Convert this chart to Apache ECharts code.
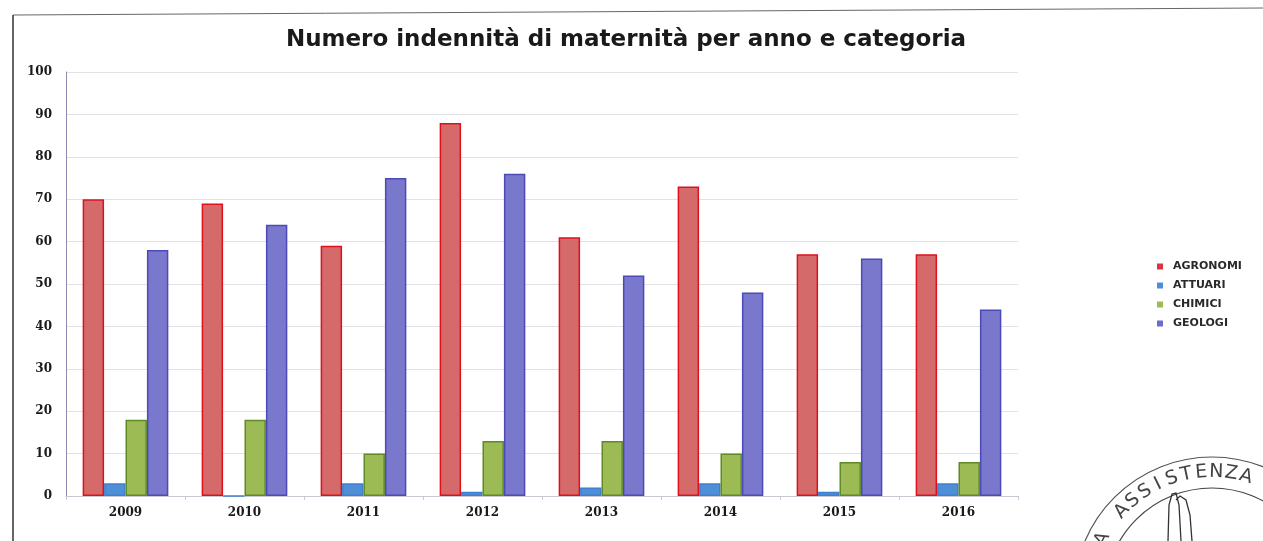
<!DOCTYPE html>
<html>
<head>
<meta charset="utf-8">
<script src="https://cdn.jsdelivr.net/npm/echarts@6/dist/echarts.min.js"></script>
<style>
  html, body { margin: 0; padding: 0; background: #fff; }
  #chart { width: 1263px; height: 541px; }
</style>
</head>
<body>
<div id="chart"></div>
<script>
const titleText = "Numero indennità di maternità per anno e categoria";
const years = ["2009", "2010", "2011", "2012", "2013", "2014", "2015", "2016"];
const seriesNames = ["AGRONOMI", "ATTUARI", "CHIMICI", "GEOLOGI"];
const agronomi = [70, 69, 59, 88, 61, 73, 57, 57];
const attuari  = [3, 0, 3, 1, 2, 3, 1, 3];
const chimici  = [18, 18, 10, 13, 13, 10, 8, 8];
const geologi  = [58, 64, 75, 76, 52, 48, 56, 44];
const yTicks = [0, 10, 20, 30, 40, 50, 60, 70, 80, 90, 100];
const stampWord = "ASSISTENZA";

const fills   = ["#d46a6a", "#4f8fd8", "#9dbb55", "#7a78cc"];
const borders = ["#e0101a", "#3f7fcf", "#5f8a25", "#4a4ab8"];
const legendColors = ["#d9363e", "#4f8fd8", "#9dbb55", "#6a6ad0"];
const values = [agronomi, attuari, chimici, geologi];

// decorative stamp (bottom-right corner of the scanned page)
const sc = { x: 1212, y: 595 };
const stampGraphics = [
  { type: 'circle', shape: { cx: sc.x, cy: sc.y, r: 138 }, style: { fill: 'none', stroke: '#555', lineWidth: 1.2 } },
  { type: 'circle', shape: { cx: sc.x, cy: sc.y, r: 107 }, style: { fill: 'none', stroke: '#444', lineWidth: 1.2 } },
  { type: 'polyline', shape: { points: [[1168, 541], [1169, 505], [1172, 494], [1176, 493], [1179, 505], [1181, 541]] }, style: { fill: 'none', stroke: '#333', lineWidth: 1.3 } },
  { type: 'polyline', shape: { points: [[1176, 500], [1180, 496], [1186, 500], [1190, 515], [1192, 541]] }, style: { fill: 'none', stroke: '#333', lineWidth: 1.3 } }
];
const letterAngles = [];
for (let i = 0; i < stampWord.length; i++) letterAngles.push(137 - i * 7);
stampWord.split('').forEach((ch, i) => {
  const a = letterAngles[i] * Math.PI / 180;
  stampGraphics.push({
    type: 'text',
    x: sc.x + 123 * Math.cos(a), y: sc.y - 123 * Math.sin(a),
    rotation: a - Math.PI / 2,
    style: { text: ch, fill: '#444', font: '19px "DejaVu Sans"', align: 'center', verticalAlign: 'middle' }
  });
});
{
  const a = 153 * Math.PI / 180;
  stampGraphics.push({
    type: 'text',
    x: sc.x + 123 * Math.cos(a), y: sc.y - 123 * Math.sin(a),
    rotation: a - Math.PI / 2,
    style: { text: 'A', fill: '#444', font: '19px "DejaVu Sans"', align: 'center', verticalAlign: 'middle' }
  });
}

const chart = echarts.init(document.getElementById('chart'), null, { renderer: 'canvas' });
chart.setOption({
  backgroundColor: '#ffffff',
  animation: false,
  title: {
    text: titleText,
    left: 621, top: 24, textAlign: 'center',
    textStyle: { fontFamily: 'DejaVu Sans', fontWeight: 'bold', fontSize: 23, color: '#1a1a1a' }
  },
  legend: {
    orient: 'vertical',
    left: 1152, top: 256,
    itemWidth: 6, itemHeight: 6, itemGap: 8,
    icon: 'rect',
    data: seriesNames.map((n, i) => ({ name: n, itemStyle: { color: legendColors[i], borderWidth: 0 } })),
    textStyle: { fontFamily: 'DejaVu Sans', fontSize: 11, fontWeight: 'bold', color: '#2a2a2a', padding: [0, 0, 0, 5] }
  },
  grid: { left: 66, right: 245, top: 72, bottom: 45, containLabel: false },
  xAxis: {
    type: 'category',
    data: years,
    axisLine: { show: true, lineStyle: { color: '#c8c8d0', width: 1 } },
    axisTick: { show: true, length: 4, lineStyle: { color: '#c8c8d0' } },
    axisLabel: { fontFamily: 'DejaVu Serif', fontWeight: 'bold', fontSize: 12, color: '#1a1a1a', margin: 11 }
  },
  yAxis: {
    type: 'value',
    min: 0, max: 100, interval: 10,
    axisLine: { show: true, lineStyle: { color: '#8a8ab0', width: 1 } },
    axisTick: { show: false },
    splitLine: { show: true, lineStyle: { color: '#e2e2e6', width: 1 } },
    axisLabel: {
      fontFamily: 'DejaVu Serif', fontWeight: 'bold', fontSize: 12, color: '#1a1a1a', margin: 14,
      formatter: v => yTicks.includes(v) ? String(v) : ''
    }
  },
  graphic: [
    { type: 'line', shape: { x1: 13, y1: 15, x2: 1263, y2: 8 }, style: { stroke: '#666', lineWidth: 1 } },
    { type: 'line', shape: { x1: 13, y1: 15, x2: 13, y2: 541 }, style: { stroke: '#333', lineWidth: 1.5 } }
  ].concat(stampGraphics),
  series: seriesNames.map((n, i) => ({
    name: n,
    type: 'bar',
    data: values[i],
    barGap: '0%',
    barCategoryGap: '28%',
    itemStyle: { color: fills[i], borderColor: borders[i], borderWidth: 1.5 },
    emphasis: { disabled: true }
  }))
});
</script>
</body>
</html>
